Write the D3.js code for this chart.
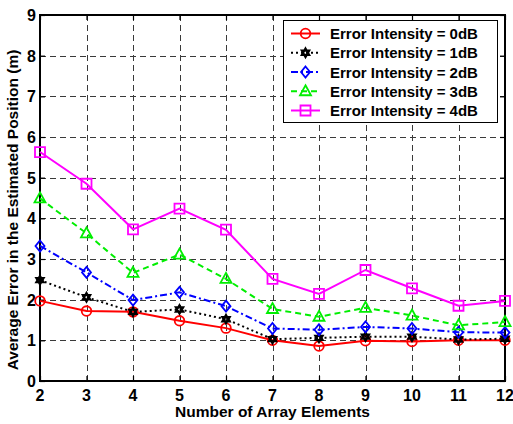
<!DOCTYPE html>
<html>
<head>
<meta charset="utf-8">
<style>
	body { margin: 0; background: #fff; font-family: "Liberation Sans", Arial, sans-serif; }
	.grid line { stroke: #3a3a3a; stroke-width: 1; stroke-dasharray: 6,4; shape-rendering: crispEdges; }
	.tick-lbl { font-size: 16px; font-weight: bold; fill: #000; }
	.axis-title { font-size: 15.5px; font-weight: bold; fill: #000; }
	.lgd-text { font-size: 15px; font-weight: bold; fill: #000; }
</style>
<script src="https://d3js.org/d3.v7.min.js"></script>
</head>
<body>
<script>
// number of array elements
var elements = [2, 3, 4, 5, 6, 7, 8, 9, 10, 11, 12];
var yTicks = [0, 1, 2, 3, 4, 5, 6, 7, 8, 9];

// average error (m) per error intensity
var err0dB = [1.97, 1.72, 1.70, 1.48, 1.30, 1.00, 0.86, 0.99, 0.97, 1.00, 1.00];
var err1dB = [2.48, 2.06, 1.70, 1.76, 1.52, 1.03, 1.06, 1.09, 1.09, 1.02, 1.04];
var err2dB = [3.32, 2.67, 1.99, 2.18, 1.84, 1.29, 1.26, 1.33, 1.29, 1.20, 1.19];
var err3dB = [4.49, 3.63, 2.66, 3.11, 2.51, 1.77, 1.58, 1.80, 1.61, 1.37, 1.45];
var err4dB = [5.63, 4.85, 3.73, 4.24, 3.72, 2.51, 2.14, 2.73, 2.28, 1.85, 1.97];

var series = [
	{name: 'Error Intensity = 0dB', values: err0dB, color: '#ff0000', dash: null, marker: 'circle'},
	{name: 'Error Intensity = 1dB', values: err1dB, color: '#000000', dash: '2,3', marker: 'hexagram'},
	{name: 'Error Intensity = 2dB', values: err2dB, color: '#0000ff', dash: '7,3,2,3', marker: 'diamond'},
	{name: 'Error Intensity = 3dB', values: err3dB, color: '#00ee00', dash: '6,4', marker: 'triangle'},
	{name: 'Error Intensity = 4dB', values: err4dB, color: '#ff00ff', dash: null, marker: 'square'}
];

(function() {
	var W = 513, H = 424;
	var pl = 40, pr = 505, pt = 15, pb = 381;

	var svg = d3.select('body').append('svg')
		.attr('width', W)
		.attr('height', H);

	var x = d3.scaleLinear().domain([2, 12]).range([pl, pr]);
	var y = d3.scaleLinear().domain([0, 9]).range([pb, pt]);

	// marker shapes
	function markerPath(type) {
		var p = d3.path();
		if (type === 'circle') {
			p.moveTo(4.8, 0); p.arc(0, 0, 4.8, 0, 2 * Math.PI);
		} else if (type === 'square') {
			p.rect(-5, -5, 10, 10);
		} else if (type === 'diamond') {
			p.moveTo(0, -5.5); p.lineTo(4.5, 0); p.lineTo(0, 5.5); p.lineTo(-4.5, 0); p.closePath();
		} else if (type === 'triangle') {
			p.moveTo(0, -6); p.lineTo(5.5, 4); p.lineTo(-5.5, 4); p.closePath();
		} else if (type === 'hexagram') {
			var r = 4.2;
			for (var k = 0; k < 2; k++) {
				for (var i = 0; i < 3; i++) {
					var a = -Math.PI / 2 + k * Math.PI / 3 + i * 2 * Math.PI / 3;
					if (i === 0) p.moveTo(r * Math.cos(a), r * Math.sin(a));
					else p.lineTo(r * Math.cos(a), r * Math.sin(a));
				}
				p.closePath();
			}
		}
		return p.toString();
	}

	// grid
	var grid = svg.append('g').attr('class', 'grid');
	grid.selectAll('.gx').data(elements.slice(1, -1)).enter().append('line')
		.attr('x1', d => Math.round(x(d)) + 0.5).attr('x2', d => Math.round(x(d)) + 0.5)
		.attr('y1', pt).attr('y2', pb);
	grid.selectAll('.gy').data(yTicks.slice(1, -1)).enter().append('line')
		.attr('x1', pl).attr('x2', pr)
		.attr('y1', d => Math.round(y(d)) + 0.5).attr('y2', d => Math.round(y(d)) + 0.5);

	// axes with inward ticks on all sides
	svg.append('g').attr('transform', 'translate(0,' + pb + ')')
		.call(d3.axisBottom(x).tickValues(elements).tickSize(-5).tickFormat(''));
	svg.append('g').attr('transform', 'translate(0,' + pt + ')')
		.call(d3.axisTop(x).tickValues(elements).tickSize(-5).tickFormat(''));
	svg.append('g').attr('transform', 'translate(' + pl + ',0)')
		.call(d3.axisLeft(y).tickValues(yTicks).tickSize(-5).tickFormat(''));
	svg.append('g').attr('transform', 'translate(' + pr + ',0)')
		.call(d3.axisRight(y).tickValues(yTicks).tickSize(-5).tickFormat(''));
	svg.selectAll('.domain').remove();
	svg.selectAll('.tick line').attr('stroke', '#000').attr('stroke-width', 1.2);

	// frame
	svg.append('rect')
		.attr('x', pl).attr('y', pt)
		.attr('width', pr - pl).attr('height', pb - pt)
		.attr('fill', 'none').attr('stroke', '#000').attr('stroke-width', 2);

	// tick labels
	svg.append('g').selectAll('text').data(elements).enter().append('text')
		.attr('class', 'tick-lbl')
		.attr('x', d => x(d)).attr('y', pb + 20)
		.attr('text-anchor', 'middle')
		.text(d => d);
	svg.append('g').selectAll('text').data(yTicks).enter().append('text')
		.attr('class', 'tick-lbl')
		.attr('x', pl - 4).attr('y', d => y(d) + 6)
		.attr('text-anchor', 'end')
		.text(d => d);

	// axis titles
	svg.append('text').attr('class', 'axis-title')
		.attr('x', (pl + pr) / 2).attr('y', 417)
		.attr('text-anchor', 'middle')
		.text('Number of Array Elements');
	svg.append('text').attr('class', 'axis-title')
		.attr('transform', 'translate(18,' + ((pt + pb) / 2 + 12) + ') rotate(-90)')
		.attr('text-anchor', 'middle')
		.text('Average Error in the Estimated Position (m)');

	// lines and markers
	var line = d3.line().x((d, i) => x(elements[i])).y(d => y(d));
	series.forEach(function(s) {
		var g = svg.append('g');
		g.append('path')
			.attr('d', line(s.values))
			.attr('fill', 'none')
			.attr('stroke', s.color)
			.attr('stroke-width', 2)
			.attr('stroke-dasharray', s.dash);
		g.selectAll('path.m').data(s.values).enter().append('path')
			.attr('class', 'm')
			.attr('d', markerPath(s.marker))
			.attr('transform', (d, i) => 'translate(' + x(elements[i]) + ',' + y(d) + ')')
			.attr('fill', 'none')
			.attr('stroke', s.color)
			.attr('stroke-width', s.marker === 'hexagram' ? 2.2 : 1.8);
	});

	// legend
	var lg = svg.append('g');
	lg.append('rect')
		.attr('x', 283.5).attr('y', 20.5).attr('width', 214).attr('height', 102)
		.attr('fill', '#fff').attr('stroke', '#000').attr('stroke-width', 1);
	var rowY = d3.scaleLinear().domain([0, 4]).range([33.5, 110.5]);
	series.forEach(function(s, i) {
		var yy = rowY(i);
		lg.append('line')
			.attr('x1', 291).attr('x2', 320).attr('y1', yy).attr('y2', yy)
			.attr('stroke', s.color).attr('stroke-width', 2)
			.attr('stroke-dasharray', s.dash);
		lg.append('path')
			.attr('d', markerPath(s.marker))
			.attr('transform', 'translate(305.5,' + yy + ')')
			.attr('fill', 'none').attr('stroke', s.color)
			.attr('stroke-width', s.marker === 'hexagram' ? 2.2 : 1.8);
		lg.append('text').attr('class', 'lgd-text')
			.attr('x', 330).attr('y', yy + 5.5)
			.text(s.name);
	});
})();
</script>
</body>
</html>
